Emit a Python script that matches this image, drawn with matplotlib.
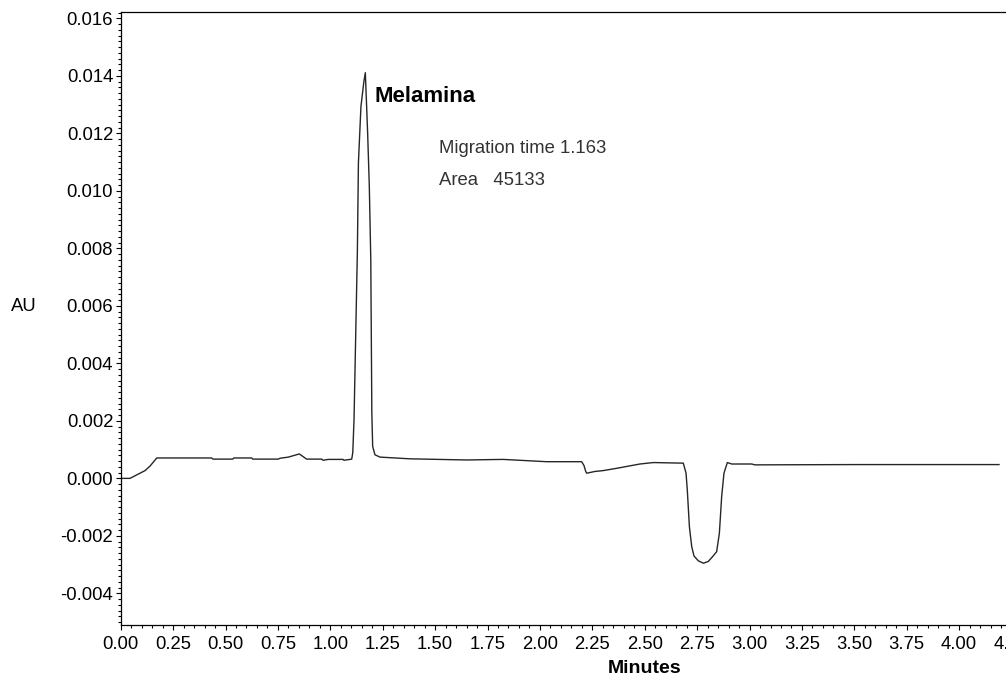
import matplotlib.pyplot as plt
from matplotlib.ticker import MultipleLocator, FormatStrFormatter

plt.rcParams['font.family'] = ['Liberation Sans', 'DejaVu Sans']
plt.rcParams['axes.unicode_minus'] = False

# electropherogram trace (minutes, AU)
time_min = [0.000, 0.044, 0.060, 0.092, 0.116, 0.140, 0.172, 0.434, 0.440, 0.534,
            0.540, 0.625, 0.630, 0.752, 0.760, 0.800, 0.852, 0.887, 0.959, 0.965,
            0.990, 1.061, 1.065, 1.094, 1.102, 1.107, 1.113, 1.123, 1.129, 1.134,
            1.146, 1.160, 1.167, 1.178, 1.186, 1.193, 1.198, 1.202, 1.213, 1.237,
            1.380, 1.651, 1.824, 2.032, 2.199, 2.210, 2.218, 2.223, 2.262, 2.301,
            2.366, 2.477, 2.541, 2.684, 2.697, 2.703, 2.713, 2.724, 2.735, 2.756,
            2.780, 2.803, 2.824, 2.843, 2.856, 2.867, 2.878, 2.894, 2.915, 3.010,
            3.026, 3.500, 4.190]
au = [0.00000, 0.00000, 0.00006, 0.00018, 0.00027, 0.00043, 0.00071, 0.00071, 0.00067, 0.00067,
      0.00071, 0.00071, 0.00067, 0.00067, 0.00070, 0.00074, 0.00085, 0.00067, 0.00067, 0.00063,
      0.00066, 0.00066, 0.00063, 0.00066, 0.00067, 0.00089, 0.00203, 0.00569, 0.00789, 0.01097,
      0.01293, 0.01380, 0.01411, 0.01201, 0.01015, 0.00760, 0.00228, 0.00111, 0.00082, 0.00074,
      0.00068, 0.00064, 0.00066, 0.00058, 0.00058, 0.00045, 0.00025, 0.00018, 0.00024, 0.00027,
      0.00035, 0.00050, 0.00055, 0.00053, 0.00018, -0.00040, -0.00168, -0.00237, -0.00270, -0.00287,
      -0.00295, -0.00289, -0.00272, -0.00255, -0.00191, -0.00063, 0.00018, 0.00055, 0.00050, 0.00050,
      0.00047, 0.00048, 0.00048]

peak_name = "Melamina"
peak_info = ["Migration time 1.163", "Area   45133"]

fig = plt.figure(figsize=(10.06, 6.83), dpi=100)
# the original axis runs 0-5 min but the image is cropped on the right
ax = fig.add_axes([0.12, 0.0849, 1.0418, 0.8975])

ax.plot(time_min, au, color='#262626', linewidth=1.0)

ax.set_xlim(0, 5)
ax.set_ylim(-0.0051, 0.01622)

ax.xaxis.set_major_locator(MultipleLocator(0.25))
ax.xaxis.set_minor_locator(MultipleLocator(0.05))
ax.xaxis.set_major_formatter(FormatStrFormatter('%.2f'))
ax.yaxis.set_major_locator(MultipleLocator(0.002))
ax.yaxis.set_minor_locator(MultipleLocator(0.0002))
ax.yaxis.set_major_formatter(FormatStrFormatter('%.3f'))

ax.tick_params(which='major', direction='out', length=3.6, width=0.8, labelsize=13.3)
ax.tick_params(which='minor', direction='out', length=2.2, width=0.8)
ax.tick_params(axis='y', pad=1.8)
ax.tick_params(axis='x', pad=4)

for side in ['left', 'bottom', 'top']:
    ax.spines[side].set_linewidth(0.9)
    ax.spines[side].set_color('black')
ax.spines['right'].set_visible(False)

ax.set_xlabel('Minutes', fontsize=14, fontweight='bold', labelpad=5.5)
fig.text(24 / 1006, 1 - 306 / 683, 'AU', fontsize=13.3, ha='center', va='center')

ax.text(1.213, 0.01327, peak_name, fontsize=16, fontweight='bold', va='center', ha='left')
ax.text(1.519, 0.01149, peak_info[0], fontsize=13.3, color='#333333', va='center', ha='left')
ax.text(1.519, 0.01036, peak_info[1], fontsize=13.3, color='#333333', va='center', ha='left')

fig.savefig('out.png', dpi=100)
